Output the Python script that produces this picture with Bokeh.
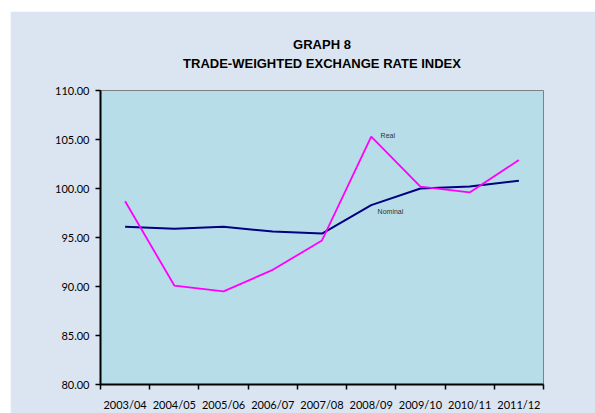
from bokeh.plotting import figure
from bokeh.models import FixedTicker, Label, Title, NumeralTickFormatter, Range1d
from bokeh.embed import file_html
from bokeh.resources import INLINE

years = ["2003/04", "2004/05", "2005/06", "2006/07", "2007/08",
         "2008/09", "2009/10", "2010/11", "2011/12"]
nominal = [96.1, 95.9, 96.1, 95.6, 95.4, 98.3, 100.0, 100.2, 100.8]
real = [98.7, 90.1, 89.5, 91.7, 94.7, 105.3, 100.2, 99.6, 102.9]
y_ticks = [80, 85, 90, 95, 100, 105, 110]
title_lines = ["GRAPH 8", "TRADE-WEIGHTED EXCHANGE RATE INDEX"]

n = len(years)
xs = [i + 0.5 for i in range(n)]

p = figure(width=585, height=402, output_backend="svg", toolbar_location=None,
           x_range=Range1d(0, n), y_range=Range1d(80, 110),
           min_border_left=90, min_border_right=52, min_border_top=79,
           min_border_bottom=27)
p.styles = {"margin-left": "10px", "margin-top": "11px"}
p.background_fill_color = "#b7dde8"
p.border_fill_color = "#dbe5f1"
p.outline_line_color = "#808080"
p.outline_line_width = 1
p.grid.visible = False

title_style = dict(align="center", text_font="Liberation Sans",
                   text_font_size="13px", text_font_style="bold",
                   text_color="#000000")
# outermost title line
p.title.text = title_lines[0]
p.title.align = "center"
p.title.text_font = "Liberation Sans"
p.title.text_font_size = "13px"
p.title.text_font_style = "bold"
p.title.text_color = "#000000"
p.title.standoff = 3
# invisible spacer closest to the frame, then the second title line
p.add_layout(Title(text=".", text_font_size="1px", text_color="#dbe5f1",
                   standoff=17), "above")
p.add_layout(Title(text=title_lines[1], standoff=0, **title_style), "above")

# x axis: labels at category centres, ticks at category boundaries
xa = p.xaxis[0]
xa.ticker = FixedTicker(ticks=xs, minor_ticks=list(range(n + 1)))
xa.major_label_overrides = {x: y for x, y in zip(xs, years)}
xa.major_tick_out = 0
xa.major_tick_in = 0
xa.minor_tick_out = 5
xa.minor_tick_in = 0
xa.minor_tick_line_color = "#000000"
xa.minor_tick_line_width = 1.5
xa.axis_line_color = "#000000"
xa.axis_line_width = 2
xa.major_label_text_font = "Lato"
xa.major_label_text_font_size = "11px"
xa.major_label_text_color = "#000000"
xa.major_label_standoff = 8

ya = p.yaxis[0]
ya.ticker = FixedTicker(ticks=y_ticks, minor_ticks=[])
ya.formatter = NumeralTickFormatter(format="0.00")
ya.major_tick_out = 5
ya.major_tick_in = 0
ya.major_tick_line_color = "#000000"
ya.major_tick_line_width = 1.5
ya.minor_tick_out = 0
ya.axis_line_color = "#000000"
ya.axis_line_width = 2
ya.major_label_text_font = "Lato"
ya.major_label_text_font_size = "11px"
ya.major_label_text_color = "#000000"
ya.major_label_standoff = 6

p.line(xs, nominal, line_color="#000080", line_width=2)
p.line(xs, real, line_color="#ff00ff", line_width=1.8)

p.add_layout(Label(x=5.69, y=105.45, text="Real", text_font="Liberation Sans",
                   text_font_size="7px", text_color="#333333",
                   text_baseline="middle"))
p.add_layout(Label(x=5.63, y=97.65, text="Nominal", text_font="Liberation Sans",
                   text_font_size="7px", text_color="#333333",
                   text_baseline="middle"))

open("out.html", "w").write(file_html(p, INLINE))
